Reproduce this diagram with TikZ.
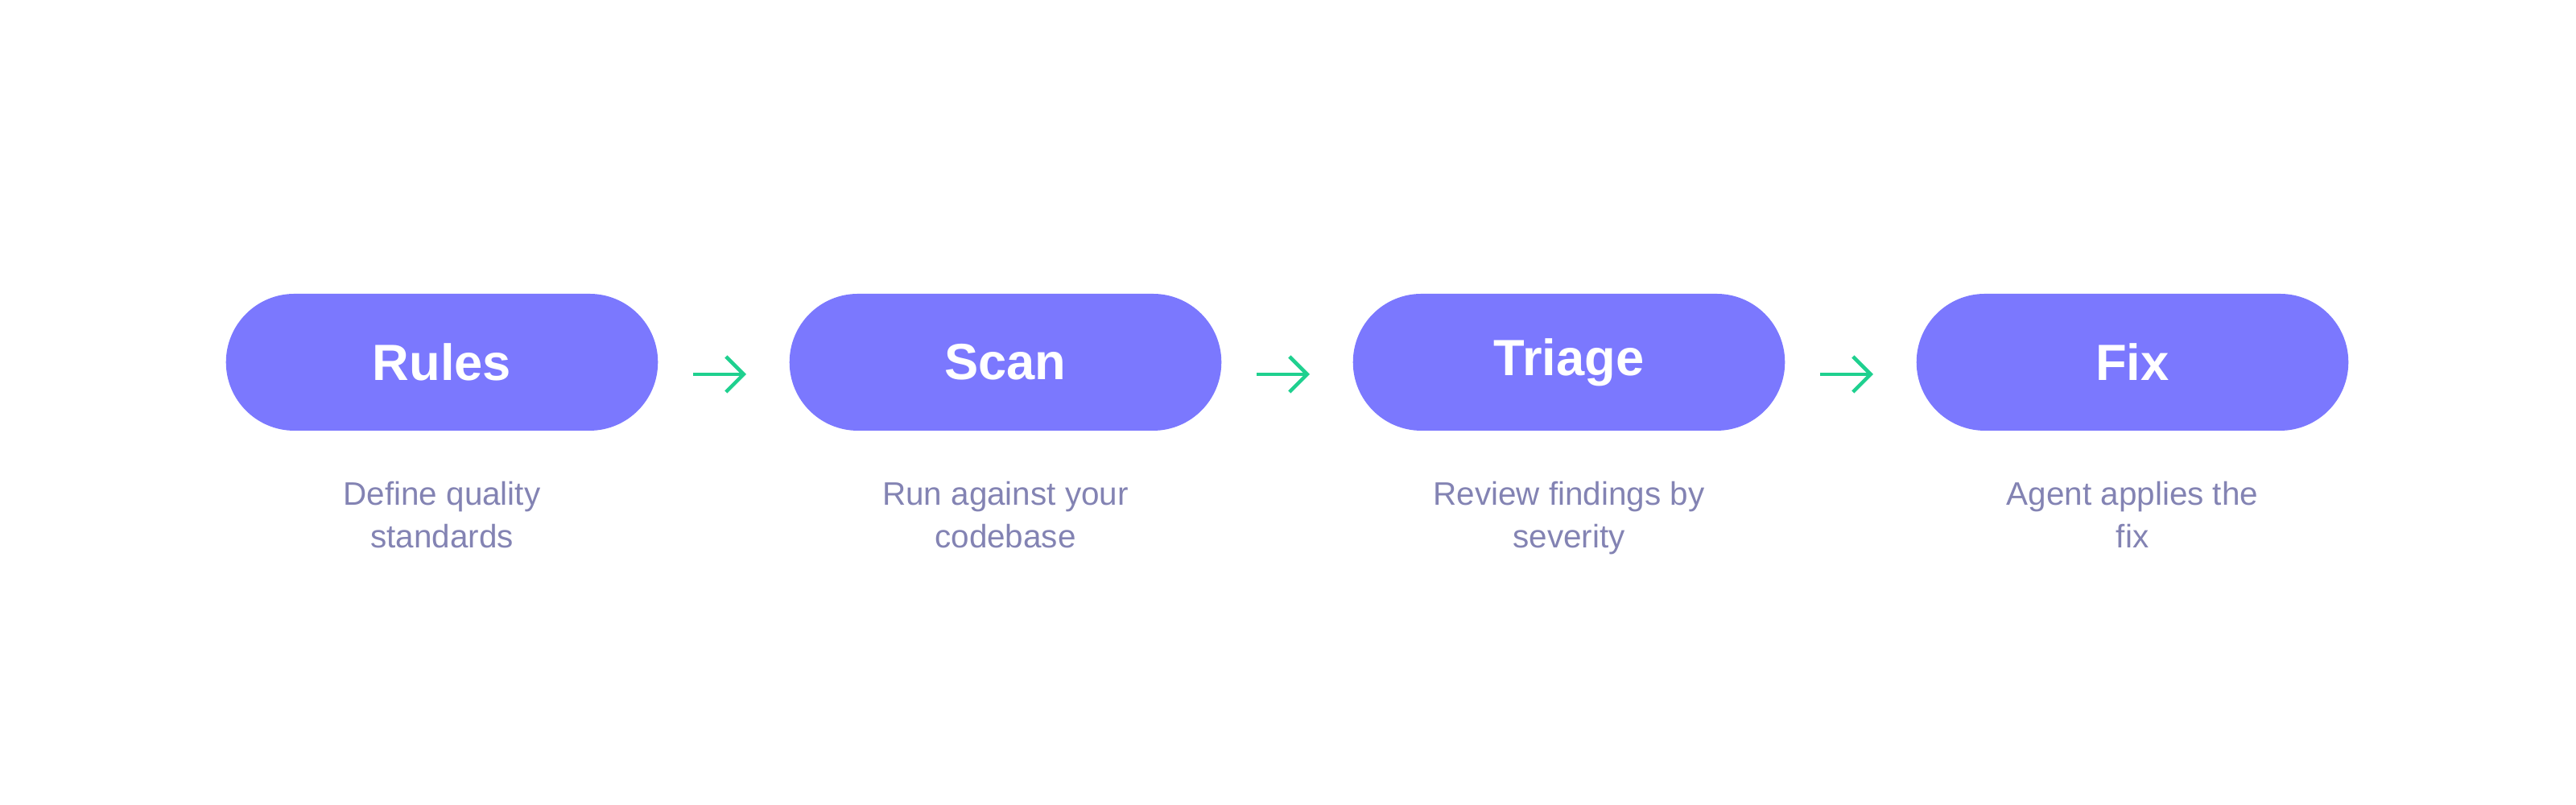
\documentclass[tikz,border=0pt]{standalone}
\usepackage{fontspec}
\setmainfont{Liberation Sans}
\usetikzlibrary{positioning,arrows.meta,shapes.misc}
\definecolor{pillfill}{HTML}{7B78FE}
\definecolor{captext}{HTML}{8383B3}
\definecolor{arrowgreen}{HTML}{1FD08F}
\tikzset{
  stage/.style={rounded rectangle, fill=pillfill, text=white, minimum width=5.6cm,
    minimum height=1.7cm, font=\fontsize{18}{22}\selectfont\bfseries},
  caption/.style={text=captext, align=center, font=\fontsize{11.5}{15}\selectfont},
  flow/.style={arrowgreen, line width=1.3pt, -{Straight Barb[length=2.2mm,width=4.4mm]}}
}
\begin{document}
\begin{tikzpicture}
  \useasboundingbox (0,0) rectangle (32,10);

  \node[stage] (rules)  at (5.49,5.5) {Rules};
  \node[stage] (scan)   at (12.49,5.5) {Scan};
  \node[stage] (triage) at (19.49,5.5) {Triage};
  \node[stage] (fix)    at (26.49,5.5) {Fix};

  \node[caption, below=0.5cm of rules]  (rulescap)  {Define quality\\standards};
  \node[caption, below=0.5cm of scan]   (scancap)   {Run against your\\codebase};
  \node[caption, below=0.5cm of triage] (triagecap) {Review findings by\\severity};
  \node[caption, below=0.5cm of fix]    (fixcap)    {Agent applies the\\fix};

  % arrows sit slightly below the pill centres
  \coordinate (a1) at (8.61,5.35);  \coordinate (b1) at (9.27,5.35);
  \coordinate (a2) at (15.61,5.35); \coordinate (b2) at (16.27,5.35);
  \coordinate (a3) at (22.61,5.35); \coordinate (b3) at (23.27,5.35);
  \draw[flow] (a1) -- (b1);
  \draw[flow] (a2) -- (b2);
  \draw[flow] (a3) -- (b3);
\end{tikzpicture}
\end{document}
